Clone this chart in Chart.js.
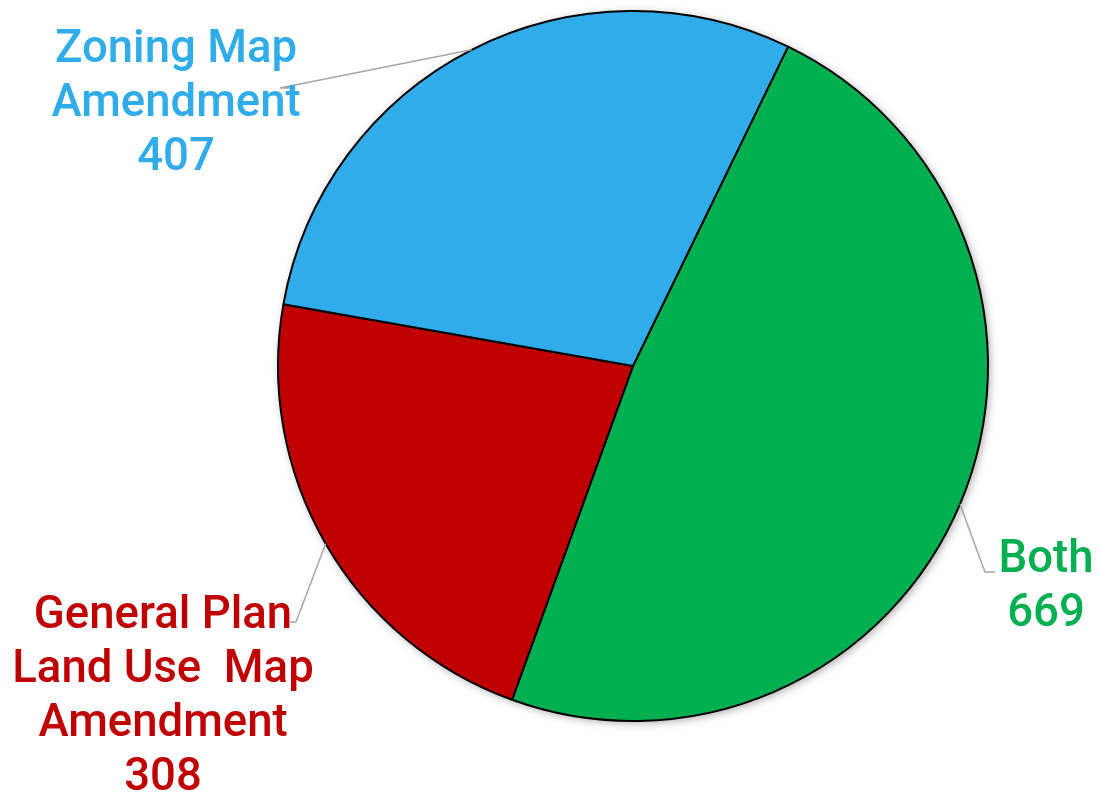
<html>
<head>
    <title>Amendment Types</title>
    <style>
        body { margin: 0; background: #fff; }
        #pie { display: block; }
    </style>
</head>
<body>
    <canvas id="pie" width="1099" height="797"></canvas>
    <script src="https://cdn.jsdelivr.net/npm/chart.js@4/dist/chart.umd.min.js"></script>
    <script>
    // data, in drawing order from the start angle clockwise
    var categories = ['Both', 'General Plan Land Use  Map Amendment', 'Zoning Map Amendment'];
    var labelLines = [['Both'], ['General Plan', 'Land Use  Map', 'Amendment'], ['Zoning Map', 'Amendment']];
    var counts = [669, 308, 407];
    var colours = ['#00B050', '#C00000', '#31ACEA'];

    // where each label sits: elbow end of the leader, text centre x, first baseline y
    var labelPos = [
        { ex: 985, ey: 572, hx: 995, tx: 1046, ty: 572 },
        { ex: 296, ey: 622, hx: 290, tx: 163, ty: 628 },
        { ex: 280, ey: 88, hx: 293, tx: 176, ty: 62 }
    ];

    var shadowPlugin = {
        id: 'pieShadow',
        beforeDatasetsDraw: function(chart) {
            var ctx = chart.ctx;
            var arc = chart.getDatasetMeta(0).data[0];
            ctx.save();
            ctx.shadowColor = 'rgba(0,0,0,0.35)';
            ctx.shadowBlur = 8;
            ctx.shadowOffsetX = 2;
            ctx.shadowOffsetY = 2;
            ctx.fillStyle = '#fff';
            ctx.beginPath();
            ctx.arc(arc.x, arc.y, arc.outerRadius, 0, Math.PI * 2);
            ctx.fill();
            ctx.restore();
        }
    };

    var labelPlugin = {
        id: 'outsideLabels',
        afterDatasetsDraw: function(chart) {
            var ctx = chart.ctx;
            var meta = chart.getDatasetMeta(0);
            ctx.save();
            meta.data.forEach(function(arc, i) {
                var mid = (arc.startAngle + arc.endAngle) / 2;
                var px = arc.x + Math.cos(mid) * arc.outerRadius;
                var py = arc.y + Math.sin(mid) * arc.outerRadius;
                var p = labelPos[i];
                ctx.strokeStyle = '#A6A6A6';
                ctx.lineWidth = 1.5;
                ctx.beginPath();
                ctx.moveTo(px, py);
                ctx.lineTo(p.ex, p.ey);
                ctx.lineTo(p.hx, p.ey);
                ctx.stroke();

                var lines = labelLines[i].concat([String(counts[i])]);
                ctx.fillStyle = colours[i];
                ctx.font = '500 45.5px Roboto';
                ctx.textAlign = 'center';
                ctx.textBaseline = 'alphabetic';
                lines.forEach(function(t, j) {
                    ctx.fillText(t, p.tx, p.ty + j * 54);
                });
            });
            ctx.restore();
        }
    };

    new Chart(document.getElementById('pie'), {
        type: 'pie',
        data: {
            labels: categories,
            datasets: [{
                data: counts,
                backgroundColor: colours,
                borderColor: '#000',
                borderWidth: 2
            }]
        },
        options: {
            responsive: false,
            animation: false,
            rotation: 25.9,
            layout: { padding: { left: 277, right: 110, top: 9, bottom: 74 } },
            plugins: {
                legend: { display: false },
                tooltip: { enabled: false }
            }
        },
        plugins: [shadowPlugin, labelPlugin]
    });
    </script>
</body>
</html>
